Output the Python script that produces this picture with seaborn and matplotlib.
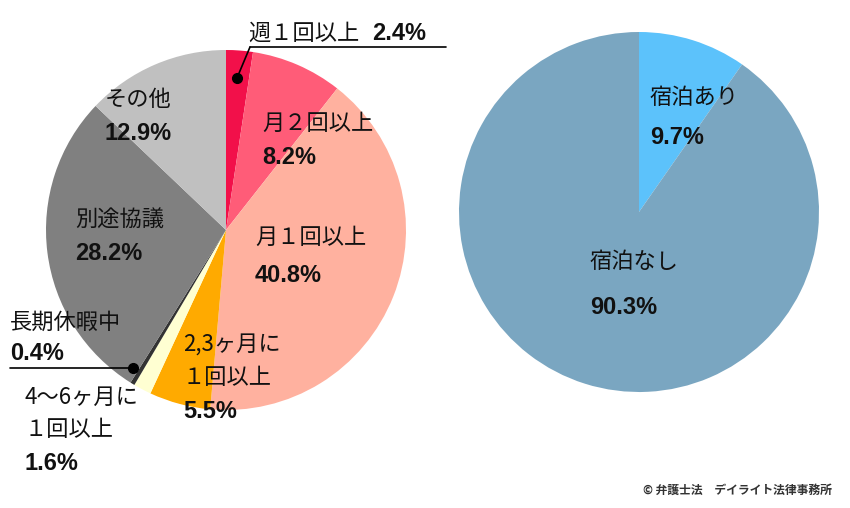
import matplotlib
matplotlib.use("Agg")
import matplotlib.pyplot as plt
import seaborn as sns

sns.set_theme(style="white")
plt.rcParams['font.family'] = ['Noto Sans CJK JP', 'DejaVu Sans']

left_labels = ["週１回以上", "月２回以上", "月１回以上", "2,3ヶ月に１回以上", "4〜6ヶ月に１回以上", "長期休暇中", "別途協議", "その他"]
left_values = [2.4, 8.2, 40.8, 5.5, 1.6, 0.4, 28.2, 12.9]
left_colors = ["#f2104a", "#ff5c78", "#ffb19f", "#ffaa00", "#ffffd2", "#333333", "#808080", "#c0c0c0"]
right_labels = ["宿泊あり", "宿泊なし"]
right_values = [9.7, 90.3]
right_colors = ["#5cc2fb", "#7aa6c1"]

fig = plt.figure(figsize=(8.5, 5.08), dpi=100)
ax = fig.add_axes([0, 0, 1, 1])

ax.pie(left_values, colors=left_colors, startangle=-90, counterclock=True,
       center=(226, 230), radius=180, wedgeprops=dict(linewidth=0))
ax.pie(right_values, colors=right_colors, startangle=-90, counterclock=True,
       center=(639, 212), radius=180, wedgeprops=dict(linewidth=0))
ax.set_xlim(0, 850); ax.set_ylim(508, 0); ax.set_aspect('equal'); ax.axis('off')

fs = 16
def t(x, y, s, bold=False, size=fs):
    fam = ['Liberation Sans', 'DejaVu Sans'] if bold else ['Noto Sans CJK JP', 'DejaVu Sans']
    ax.text(x, y, s, fontsize=size if not bold else size + 1, family=fam,
            fontweight='bold' if bold else 'normal',
            ha='left', va='center', color='#111111')

t(248, 33, "週１回以上")
t(372, 34, "2.4%", bold=True)
ax.plot([250, 446], [47, 47], color='black', lw=1.2)
ax.plot([237, 250], [78, 47], color='black', lw=1.2)
ax.plot(237, 78, 'o', color='black', ms=7)
t(262, 123, "月２回以上"); t(262, 158, "8.2%", bold=True)
t(255, 237, "月１回以上"); t(255, 276, "40.8%", bold=True)
t(183, 345, "2,3ヶ月に"); t(183, 378, "１回以上"); t(183, 412, "5.5%", bold=True)
t(105, 100, "その他"); t(105, 133, "12.9%", bold=True)
t(75, 220, "別途協議"); t(75, 254, "28.2%", bold=True)
t(10, 322, "長期休暇中"); t(10, 353, "0.4%", bold=True)
ax.plot([10, 133], [368, 368], color='black', lw=1.2)
ax.plot(133, 368, 'o', color='black', ms=7)
t(25, 397, "4〜6ヶ月に"); t(25, 430, "１回以上"); t(25, 464, "1.6%", bold=True)
t(650, 98, "宿泊あり"); t(650, 137, "9.7%", bold=True)
t(590, 262, "宿泊なし"); t(590, 307, "90.3%", bold=True)
ax.text(832, 490, "© 弁護士法　デイライト法律事務所", fontsize=8.5, fontweight='bold',
        ha='right', va='center', color='#333333')

fig.savefig("out.png", dpi=100)
